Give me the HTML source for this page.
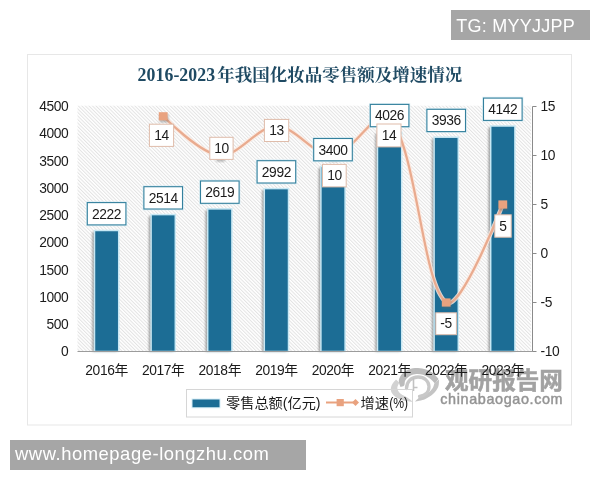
<!DOCTYPE html>
<html lang="zh-CN"><head><meta charset="utf-8"><title>2016-2023年我国化妆品零售额及增速情况</title>
<style>
html,body{margin:0;padding:0;background:#fff;}
body{width:600px;height:480px;overflow:hidden;position:relative;font-family:"Liberation Sans","Noto Sans CJK SC",sans-serif;}
svg{position:absolute;left:0;top:0;display:block;}
text{font-family:"Liberation Sans","Noto Sans CJK SC",sans-serif;}
.ax{font-size:13.8px;fill:#1a1a1a;letter-spacing:-0.4px;}
.lb{font-size:13.8px;fill:#1a1a1a;text-anchor:middle;letter-spacing:-0.4px;}
.ttl{font-family:"Liberation Serif","Noto Serif CJK SC",serif;font-weight:bold;font-size:17.2px;fill:#1f4a63;}
.tag{position:absolute;background:#a6a6a6;color:#fff;font-size:17.5px;white-space:nowrap;}
</style></head><body>
<svg width="600" height="480" viewBox="0 0 600 480">
<defs>
<pattern id="hatch" width="2.5" height="2.5" patternUnits="userSpaceOnUse" patternTransform="rotate(-45)">
<rect width="2.5" height="2.5" fill="#fff"/><rect width="1.0" height="2.5" fill="#e3e3e3"/>
</pattern>
<filter id="sh" x="-30%" y="-5%" width="160%" height="110%"><feGaussianBlur stdDeviation="1.2"/></filter>
</defs>

<rect x="27.5" y="54.5" width="544" height="370.5" fill="#fff" stroke="#e7e7e7" stroke-width="1"/>
<g>
<path d="M438.5,379 C437.6,378.0 435.1,374.6 433.0,373.0 C430.9,371.4 428.5,370.3 426.0,369.5 C423.5,368.7 420.8,368.1 418.0,368.0 C415.2,367.9 411.7,368.2 409.0,369.2 C406.3,370.2 403.7,372.1 402.0,374.0 C400.3,375.9 399.1,378.3 398.8,380.5 C398.6,382.7 400.2,385.9 400.5,387.0 L400.5,387 C401.1,386.8 403.4,386.6 404.2,385.5 C405.0,384.4 404.4,382.0 405.2,380.5 C406.0,379.0 407.4,377.6 409.0,376.5 C410.6,375.4 412.7,374.5 415.0,374.2 C417.3,373.9 420.6,374.1 423.0,374.8 C425.4,375.5 427.5,376.8 429.5,378.2 C431.5,379.6 434.1,382.6 435.0,383.5 Z" fill="#bcbcbc"/>
<path d="M396,379.5 C395.3,380.4 392.6,383.1 391.8,385.0 C391.0,386.9 390.5,389.1 391.0,391.0 C391.5,392.9 393.0,394.9 395.0,396.5 C397.0,398.1 400.0,399.6 403.0,400.5 C406.0,401.4 411.3,401.6 413.0,401.8 L413,401.8 C411.9,401.0 408.7,398.4 406.5,397.0 C404.3,395.6 401.5,394.7 400.0,393.2 C398.5,391.7 397.4,389.8 397.3,388.0 C397.2,386.2 399.0,383.4 399.3,382.5 Z" fill="#d2d2d2"/>
<path d="M439,379.5 C438.9,380.8 439.2,384.6 438.2,387.0 C437.2,389.4 435.2,392.0 433.0,394.0 C430.8,396.0 428.0,397.9 425.0,399.2 C422.0,400.4 416.7,401.1 415.0,401.5 L415,401.5 C415.9,400.7 418.5,397.9 420.5,396.6 C422.5,395.3 425.2,394.9 427.2,393.6 C429.2,392.3 431.2,390.3 432.4,388.6 C433.6,386.9 434.0,384.4 434.3,383.5 Z" fill="#c4c4c4"/>
<path d="M406.5,388.5 C406.5,381.5 411.5,377 418,377 C424.5,377 429,381.5 429,386.5 C429,392 425,395.8 419.5,396.3" fill="none" stroke="#c8c8c8" stroke-width="3.3" stroke-linecap="round"/>
<path d="M413.5,378 L413.5,391 M413.5,387.5 L417.5,387.5" fill="none" stroke="#c2c2c2" stroke-width="1.6"/>
<text x="445" y="388.5" font-size="23.6" font-weight="bold" fill="#a2a2a2" stroke="#a2a2a2" stroke-width="0.5">观研报告网</text>
<text x="440.3" y="403.8" font-size="14.4" fill="#949494" stroke="#949494" stroke-width="0.45" letter-spacing="0.62">chinabaogao.com</text>
</g>
<rect x="77.5" y="105.7" width="453.6" height="245.8" fill="url(#hatch)"/>
<text class="ttl" y="81"><tspan x="137.6" textLength="77.5" lengthAdjust="spacing" style="font-size:17.8px">2016-2023</tspan><tspan x="217.2" style="font-size:17.5px">年我国化妆品零售额及增速情况</tspan></text>
<rect x="92.3" y="232.0" width="24.2" height="119.5" fill="#555" opacity="0.55" filter="url(#sh)"/>
<rect x="94.5" y="230.5" width="24.2" height="121.0" fill="#1c6d95" stroke="#c8e8f4" stroke-width="1.5"/>
<rect x="148.9" y="216.1" width="24.2" height="135.4" fill="#555" opacity="0.55" filter="url(#sh)"/>
<rect x="151.1" y="214.6" width="24.2" height="136.9" fill="#1c6d95" stroke="#c8e8f4" stroke-width="1.5"/>
<rect x="205.5" y="210.4" width="24.2" height="141.1" fill="#555" opacity="0.55" filter="url(#sh)"/>
<rect x="207.7" y="208.9" width="24.2" height="142.6" fill="#1c6d95" stroke="#c8e8f4" stroke-width="1.5"/>
<rect x="262.1" y="190.1" width="24.2" height="161.4" fill="#555" opacity="0.55" filter="url(#sh)"/>
<rect x="264.3" y="188.6" width="24.2" height="162.9" fill="#1c6d95" stroke="#c8e8f4" stroke-width="1.5"/>
<rect x="318.7" y="167.9" width="24.2" height="183.6" fill="#555" opacity="0.55" filter="url(#sh)"/>
<rect x="320.9" y="166.4" width="24.2" height="185.1" fill="#1c6d95" stroke="#c8e8f4" stroke-width="1.5"/>
<rect x="375.3" y="133.8" width="24.2" height="217.7" fill="#555" opacity="0.55" filter="url(#sh)"/>
<rect x="377.5" y="132.3" width="24.2" height="219.2" fill="#1c6d95" stroke="#c8e8f4" stroke-width="1.5"/>
<rect x="431.9" y="138.7" width="24.2" height="212.8" fill="#555" opacity="0.55" filter="url(#sh)"/>
<rect x="434.1" y="137.2" width="24.2" height="214.3" fill="#1c6d95" stroke="#c8e8f4" stroke-width="1.5"/>
<rect x="488.5" y="127.5" width="24.2" height="224.0" fill="#555" opacity="0.55" filter="url(#sh)"/>
<rect x="490.7" y="126.0" width="24.2" height="225.5" fill="#1c6d95" stroke="#c8e8f4" stroke-width="1.5"/>
<line x1="77.5" y1="351.5" x2="532.5" y2="351.5" stroke="#9c9c9c" stroke-width="1"/>
<line x1="532.5" y1="106.5" x2="532.5" y2="351.5" stroke="#8a8a8a" stroke-width="1"/>
<line x1="532.5" y1="351.5" x2="536.5" y2="351.5" stroke="#8a8a8a" stroke-width="1"/>
<text class="ax" x="540.5" y="356.2">-10</text>
<line x1="532.5" y1="302.5" x2="536.5" y2="302.5" stroke="#8a8a8a" stroke-width="1"/>
<text class="ax" x="540.5" y="307.2">-5</text>
<line x1="532.5" y1="253.5" x2="536.5" y2="253.5" stroke="#8a8a8a" stroke-width="1"/>
<text class="ax" x="540.5" y="258.2">0</text>
<line x1="532.5" y1="204.5" x2="536.5" y2="204.5" stroke="#8a8a8a" stroke-width="1"/>
<text class="ax" x="540.5" y="209.2">5</text>
<line x1="532.5" y1="155.5" x2="536.5" y2="155.5" stroke="#8a8a8a" stroke-width="1"/>
<text class="ax" x="540.5" y="160.2">10</text>
<line x1="532.5" y1="106.5" x2="536.5" y2="106.5" stroke="#8a8a8a" stroke-width="1"/>
<text class="ax" x="540.5" y="111.2">15</text>
<text class="ax" x="68.3" y="356.2" text-anchor="end">0</text>
<text class="ax" x="68.3" y="329.0" text-anchor="end">500</text>
<text class="ax" x="68.3" y="301.8" text-anchor="end">1000</text>
<text class="ax" x="68.3" y="274.5" text-anchor="end">1500</text>
<text class="ax" x="68.3" y="247.3" text-anchor="end">2000</text>
<text class="ax" x="68.3" y="220.1" text-anchor="end">2500</text>
<text class="ax" x="68.3" y="192.9" text-anchor="end">3000</text>
<text class="ax" x="68.3" y="165.6" text-anchor="end">3500</text>
<text class="ax" x="68.3" y="138.4" text-anchor="end">4000</text>
<text class="ax" x="68.3" y="111.2" text-anchor="end">4500</text>
<text class="ax" x="106.6" y="375" text-anchor="middle">2016年</text>
<text class="ax" x="163.2" y="375" text-anchor="middle">2017年</text>
<text class="ax" x="219.8" y="375" text-anchor="middle">2018年</text>
<text class="ax" x="276.4" y="375" text-anchor="middle">2019年</text>
<text class="ax" x="333.0" y="375" text-anchor="middle">2020年</text>
<text class="ax" x="389.6" y="375" text-anchor="middle">2021年</text>
<text class="ax" x="446.2" y="375" text-anchor="middle">2022年</text>
<text class="ax" x="502.8" y="375" text-anchor="middle">2023年</text>
<path d="M163.2,116.3 C163.2,116.3 200.2,153.8 219.8,155.5 C237.9,157.1 257.5,126.1 276.4,126.1 C295.3,126.1 314.9,157.1 333.0,155.5 C352.6,153.8 379.7,103.5 389.6,116.3 C417.5,152.5 422.3,283.9 446.2,302.5 C460.1,313.3 502.8,204.5 502.8,204.5" fill="none" stroke="#fbe9df" stroke-width="4.4" opacity="0.85" stroke-linecap="round"/>
<path d="M163.2,116.3 C163.2,116.3 200.2,153.8 219.8,155.5 C237.9,157.1 257.5,126.1 276.4,126.1 C295.3,126.1 314.9,157.1 333.0,155.5 C352.6,153.8 379.7,103.5 389.6,116.3 C417.5,152.5 422.3,283.9 446.2,302.5 C460.1,313.3 502.8,204.5 502.8,204.5" fill="none" stroke="#e9ab8f" stroke-width="2.3" stroke-linecap="round"/>
<rect x="159.7" y="114.2" width="8.6" height="8.2" fill="#666" opacity="0.45" filter="url(#sh)"/>
<rect x="158.8" y="112.2" width="8.8" height="8.2" fill="#e9a27f"/>
<rect x="216.3" y="153.4" width="8.6" height="8.2" fill="#666" opacity="0.45" filter="url(#sh)"/>
<rect x="215.4" y="151.4" width="8.8" height="8.2" fill="#e9a27f"/>
<rect x="272.9" y="124.0" width="8.6" height="8.2" fill="#666" opacity="0.45" filter="url(#sh)"/>
<rect x="272.0" y="122.0" width="8.8" height="8.2" fill="#e9a27f"/>
<rect x="329.5" y="153.4" width="8.6" height="8.2" fill="#666" opacity="0.45" filter="url(#sh)"/>
<rect x="328.6" y="151.4" width="8.8" height="8.2" fill="#e9a27f"/>
<rect x="386.1" y="114.2" width="8.6" height="8.2" fill="#666" opacity="0.45" filter="url(#sh)"/>
<rect x="385.2" y="112.2" width="8.8" height="8.2" fill="#e9a27f"/>
<rect x="442.7" y="300.4" width="8.6" height="8.2" fill="#666" opacity="0.45" filter="url(#sh)"/>
<rect x="441.8" y="298.4" width="8.8" height="8.2" fill="#e9a27f"/>
<rect x="499.3" y="202.4" width="8.6" height="8.2" fill="#666" opacity="0.45" filter="url(#sh)"/>
<rect x="498.4" y="200.4" width="8.8" height="8.2" fill="#e9a27f"/>
<rect x="87.3" y="202.6" width="38.6" height="22.3" fill="none" stroke="#d4ebf4" stroke-width="2.6" opacity="0.8"/>
<rect x="87.3" y="202.6" width="38.6" height="22.3" fill="#fff" stroke="#34809d" stroke-width="1.1"/>
<text class="lb" x="106.6" y="218.6">2222</text>
<rect x="143.9" y="186.7" width="38.6" height="22.3" fill="none" stroke="#d4ebf4" stroke-width="2.6" opacity="0.8"/>
<rect x="143.9" y="186.7" width="38.6" height="22.3" fill="#fff" stroke="#34809d" stroke-width="1.1"/>
<text class="lb" x="163.2" y="202.7">2514</text>
<rect x="200.5" y="181.0" width="38.6" height="22.3" fill="none" stroke="#d4ebf4" stroke-width="2.6" opacity="0.8"/>
<rect x="200.5" y="181.0" width="38.6" height="22.3" fill="#fff" stroke="#34809d" stroke-width="1.1"/>
<text class="lb" x="219.8" y="197.0">2619</text>
<rect x="257.1" y="160.7" width="38.6" height="22.3" fill="none" stroke="#d4ebf4" stroke-width="2.6" opacity="0.8"/>
<rect x="257.1" y="160.7" width="38.6" height="22.3" fill="#fff" stroke="#34809d" stroke-width="1.1"/>
<text class="lb" x="276.4" y="176.7">2992</text>
<rect x="313.7" y="138.5" width="38.6" height="22.3" fill="none" stroke="#d4ebf4" stroke-width="2.6" opacity="0.8"/>
<rect x="313.7" y="138.5" width="38.6" height="22.3" fill="#fff" stroke="#34809d" stroke-width="1.1"/>
<text class="lb" x="333.0" y="154.5">3400</text>
<rect x="370.3" y="104.4" width="38.6" height="22.3" fill="none" stroke="#d4ebf4" stroke-width="2.6" opacity="0.8"/>
<rect x="370.3" y="104.4" width="38.6" height="22.3" fill="#fff" stroke="#34809d" stroke-width="1.1"/>
<text class="lb" x="389.6" y="120.4">4026</text>
<rect x="426.9" y="109.3" width="38.6" height="22.3" fill="none" stroke="#d4ebf4" stroke-width="2.6" opacity="0.8"/>
<rect x="426.9" y="109.3" width="38.6" height="22.3" fill="#fff" stroke="#34809d" stroke-width="1.1"/>
<text class="lb" x="446.2" y="125.3">3936</text>
<rect x="483.5" y="98.1" width="38.6" height="22.3" fill="none" stroke="#d4ebf4" stroke-width="2.6" opacity="0.8"/>
<rect x="483.5" y="98.1" width="38.6" height="22.3" fill="#fff" stroke="#34809d" stroke-width="1.1"/>
<text class="lb" x="502.8" y="114.1">4142</text>
<rect x="149.4" y="124.2" width="24.2" height="22.2" fill="#fff" stroke="#dfbcaa" stroke-width="1"/>
<text class="lb" x="161.5" y="140.0">14</text>
<rect x="209.8" y="137.3" width="23.3" height="22.1" fill="#fff" stroke="#dfbcaa" stroke-width="1"/>
<text class="lb" x="221.4" y="153.1">10</text>
<rect x="264.4" y="119.4" width="24.3" height="22.1" fill="#fff" stroke="#dfbcaa" stroke-width="1"/>
<text class="lb" x="276.5" y="135.1">13</text>
<rect x="322.5" y="164.4" width="23.7" height="22.5" fill="#fff" stroke="#dfbcaa" stroke-width="1"/>
<text class="lb" x="334.4" y="180.3">10</text>
<rect x="376.9" y="124.0" width="24.1" height="22.9" fill="#fff" stroke="#dfbcaa" stroke-width="1"/>
<text class="lb" x="388.9" y="140.1">14</text>
<rect x="435.8" y="312.8" width="20.6" height="21.9" fill="#fff" stroke="#dfbcaa" stroke-width="1"/>
<text class="lb" x="446.1" y="328.4">-5</text>
<rect x="494.8" y="214.8" width="16.4" height="22.4" fill="#fff" stroke="#dfbcaa" stroke-width="1"/>
<text class="lb" x="503.0" y="230.7">5</text>
<rect x="186.5" y="389.5" width="226" height="27.5" fill="none" stroke="#d6d6d6" stroke-width="1"/>
<rect x="192" y="399" width="28" height="8.8" fill="#1c6d95" stroke="#d5eef7" stroke-width="1"/>
<text x="226" y="408" font-size="14.2" fill="#1a1a1a">零售总额(亿元)</text>
<line x1="326" y1="402.5" x2="356" y2="402.5" stroke="#e9a27f" stroke-width="2"/>
<rect x="336.6" y="399" width="7.2" height="7.2" fill="#e9a27f"/>
<path d="M352,402.5 l3.5,-3.5 l3.5,3.5 l-3.5,3.5 z" fill="#e9a27f"/>
<text x="360.6" y="408" font-size="14.2" fill="#1a1a1a">增速</text><text transform="translate(389.2,408) scale(0.86,1)" font-size="14.2" fill="#1a1a1a">(%)</text>
</svg>
<div class="tag" style="left:451px;top:10px;width:139px;height:30px;line-height:32px;font-size:18px;letter-spacing:0.25px"><span style="margin-left:5.3px">TG: MYYJJPP</span></div>
<div class="tag" style="left:10px;top:440px;width:296px;height:30px;line-height:28px;font-size:18.4px;letter-spacing:0.55px"><span style="margin-left:5px">www.homepage-longzhu.com</span></div>
</body></html>
